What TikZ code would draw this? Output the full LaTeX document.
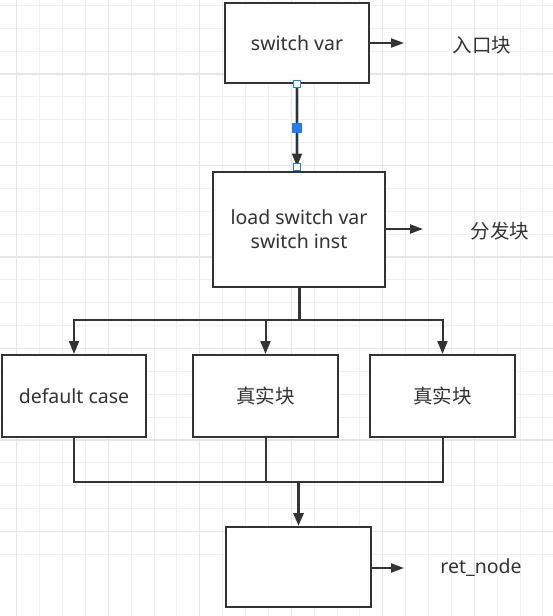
\documentclass[tikz,border=0pt]{standalone}
\usepackage{fontspec}
\setmainfont{Noto Sans}
\newfontfamily\cjk{Noto Sans CJK SC}
\usetikzlibrary{arrows.meta}
\definecolor{ink}{RGB}{51,51,51}
\definecolor{gridminor}{RGB}{240,240,240}
\definecolor{gridmajor}{RGB}{230,230,230}
\definecolor{selblue}{RGB}{30,125,240}
\definecolor{selglow}{RGB}{170,200,240}
\tikzset{
  blk/.style={draw=ink, line width=2pt, fill=white, rectangle, inner sep=0pt,
    text=ink, font=\fontsize{19.5}{24}\selectfont, align=center},
  lbl/.style={text=ink, font=\fontsize{19.5}{24}\selectfont, inner sep=0pt},
  conn/.style={draw=ink, line width=2pt},
  thickconn/.style={draw=ink, line width=3pt},
  arr/.style={-{Triangle[length=13pt,width=10pt]}},
  sidearr/.style={conn, -{Triangle[length=13pt,width=9pt]}},
  hnd/.style={draw=selblue, line width=0.8pt, fill=white, minimum size=7pt, inner sep=0pt, rectangle},
  hndfill/.style={draw=selblue, fill=selblue, minimum size=9pt, inner sep=0pt, rectangle},
}
\begin{document}
\begin{tikzpicture}[x=1pt,y=-1pt]
\useasboundingbox (0,0) rectangle (553,616);
\fill[white] (0,0) rectangle (553,616);
% grid
\foreach \i in {-1,...,24} {
  \draw[gridminor, line width=1pt] ({16.8+22.875*\i},0) -- ({16.8+22.875*\i},616);
  \draw[gridminor, line width=1pt] (0,{5.4+22.875*\i}) -- (553,{5.4+22.875*\i});
}
\foreach \i in {0,...,6} {
  \draw[gridmajor, line width=1.3pt] ({16.8+91.5*\i},0) -- ({16.8+91.5*\i},616);
  \draw[gridmajor, line width=1.3pt] (0,{-17.5+91.5*\i}) -- (553,{-17.5+91.5*\i});
}
% blocks
\node[blk, minimum width=144pt, minimum height=80pt] (b1) at (297,43) {switch var};
\node[blk, minimum width=172pt, minimum height=115pt] (b2) at (299,229.5) {load switch var\\switch inst};
\node[blk, minimum width=144pt, minimum height=82pt] (b3) at (74,396) {default case};
\node[blk, minimum width=145pt, minimum height=82pt] (b4) at (265.5,396) {\cjk 真实块};
\node[blk, minimum width=145pt, minimum height=82pt] (b5) at (442.5,396) {\cjk 真实块};
\node[blk, minimum width=145pt, minimum height=80pt] (b6) at (298.5,567) {};
% side labels
\node[lbl] (l1) at (482,45) {\cjk 入口块};
\node[lbl] (l2) at (500,231) {\cjk 分发块};
\node[lbl] (l3) at (481,568) {ret\_node};
\coordinate (e1) at (404,43);
\coordinate (e2) at (423,229);
\coordinate (e3) at (404,568);
\draw[sidearr] (b1.east) -- (e1);
\draw[sidearr] (b2.east |- e2) -- (e2);
\draw[sidearr] (b6.east |- e3) -- (e3);
% selected connector
\coordinate (t2) at ([yshift=4.5pt]b1.south |- b2.north);
\draw[selglow, line width=4.5pt] (b1.south) -- (t2);
\draw[conn, arr] (b1.south) -- (t2);
\node[hnd] (h1) at (b1.south) {};
\node[hndfill] (h2) at (297,127.5) {};
\node[hnd] (h3) at (t2) {};
% split
\coordinate (split) at (299,320);
\draw[thickconn] (b2.south) -- ([yshift=-1pt]split);
\draw[conn, arr] (split) -| (b3.north);
\draw[conn, arr] (split) -| (b5.north);
\draw[conn, arr] (b4.north |- split) -- (b4.north);
% merge
\coordinate (merge) at (298.5,482);
\draw[conn] (b3.south) |- (merge);
\draw[conn] (b5.south) |- (merge);
\draw[conn] (b4.south) -- (b4.south |- merge);
\draw[thickconn, arr] ([yshift=1pt]merge) -- (b6.north);
\end{tikzpicture}
\end{document}
